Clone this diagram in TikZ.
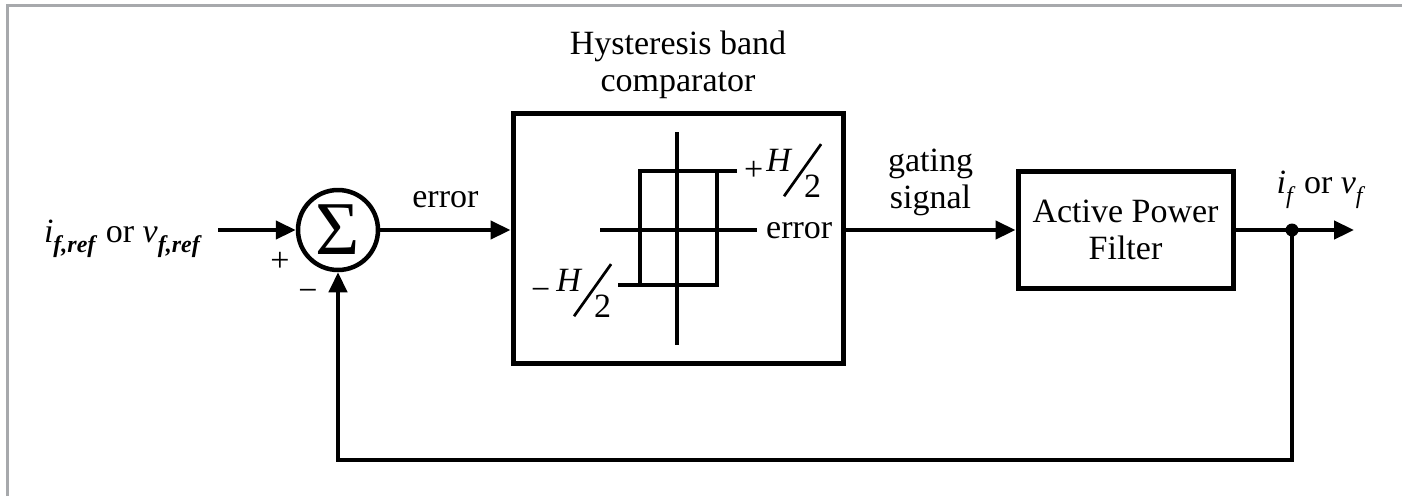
\documentclass[tikz,border=0pt]{standalone}
\usepackage{fontspec}
\setmainfont{Liberation Serif}
\usepackage{graphicx}
\usepackage{tikz}
\usetikzlibrary{arrows.meta, positioning}
\usepackage{xcolor}
\definecolor{framegray}{HTML}{A7A9AC}

% H over 2 with a long slash
\newcommand{\halfH}{\raisebox{0.24em}{\textit{H}}\kern-0.28em\raisebox{-0.5em}{\rotatebox{54.6}{\rule{1.88em}{0.08em}}}\kern-0.53em\raisebox{-0.5em}{2}}
\newcommand{\subsc}[1]{\raisebox{-0.3em}{\fontsize{24}{24}\selectfont #1}}

\begin{document}
\begin{tikzpicture}[
  x=1pt, y=-1pt,
  every node/.style={font=\fontsize{34}{37}\selectfont},
  block/.style={rectangle, draw, line width=5pt, align=center},
  sumnode/.style={circle, draw, line width=4.5pt, minimum size=80pt, inner sep=0pt},
  dot/.style={circle, fill, inner sep=0pt, minimum size=13pt},
  tag/.style={inner sep=2pt},
  arrow/.style={line width=4.5pt, -{Triangle[length=20pt, width=18pt]}},
  graphline/.style={line width=4pt},
  frame/.style={line width=3pt, draw=framegray}
]
\useasboundingbox (0,0) rectangle (1402,496);

% Frame
\draw[frame] (7.5,496) -- (7.5,5.5) -- (1402,5.5);

% Blocks
\node[sumnode] (sum) at (338,230) {\fontsize{76}{76}\selectfont Σ};
\node[block, minimum width=330pt, minimum height=250pt] (hyst) at (678,238) {};
\node[above=12pt of hyst, align=center, inner sep=0pt] (htitle) {Hysteresis band\\comparator};
\node[block, minimum width=215pt, minimum height=117pt] (apf) at (1125.5,230) {Active Power\\Filter};

% Hysteresis characteristic
\draw[graphline] (677,132) -- (677,345);
\draw[graphline] (600,230) -- (757,230);
\draw[graphline] (618,285) -- (717,285) -- (717,171);
\draw[graphline] (737,171) -- (640,171) -- (640,285);
\node[anchor=base west, inner sep=0pt] (hplus) at (744,180) {+\kern3pt\halfH};
\node[anchor=base west, inner sep=0pt] (hminus) at (531,300) {−\kern6pt\halfH};
\node[anchor=base west, inner sep=0pt] (herr) at (766,238) {error};

% Signals
\coordinate (in) at (218,230);
\coordinate (tap) at (1292,230);
\coordinate (out) at (1354,230);
\coordinate (back) at (1292,460);
\coordinate (hout) at (hyst.east |- sum.east);

\node[anchor=base east, inner sep=0pt] (lin) at (202,242) {\textit{i}\subsc{\textbf{\textit{f,ref}}} or \textit{v}\subsc{\textbf{\textit{f,ref}}}};
\node[anchor=base, inner sep=0pt] (lout) at (1321,193) {\textit{i}\subsc{\textit{f}} or \textit{v}\subsc{\textit{f}}};
\node[inner sep=0pt] (lplus) at (280,262) {+};
\node[inner sep=0pt] (lminus) at (308,295) {−};

% Connections
\draw[arrow] (in) -- (sum.west);
\draw[arrow] (sum.east) -- (sum.east -| hyst.west) node[tag, midway, above=18pt] (lerr) {error};
\draw[arrow] (hout) -- (hout -| apf.west) node[tag, midway, above=10pt, align=center] (lgate) {gating\\signal};
\draw[arrow] (apf.east) -- (out);
\node[dot] (tapdot) at (tap) {};

% Feedback
\draw[arrow] (tap) -- (back) -| (sum.south);

\end{tikzpicture}
\end{document}
